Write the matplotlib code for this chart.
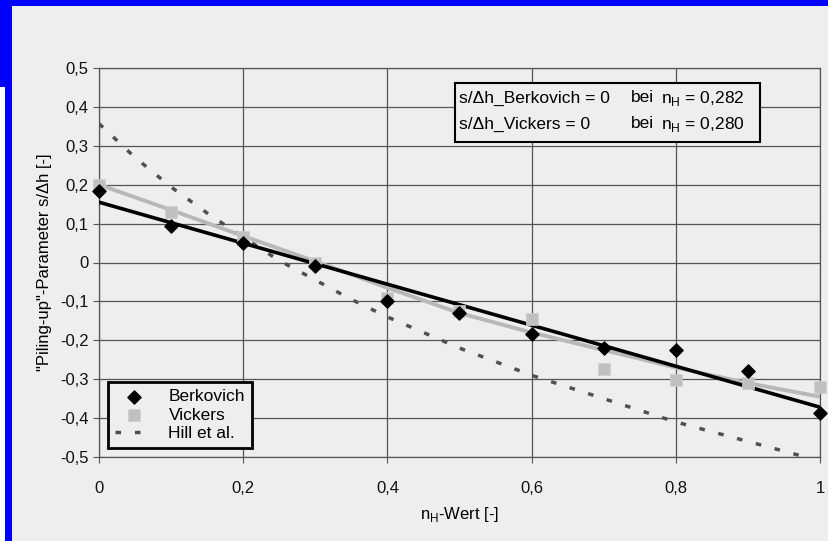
import numpy as np
import matplotlib
matplotlib.use("Agg")
import matplotlib.pyplot as plt
from matplotlib.patches import Rectangle

plt.rcParams['font.family'] = ['Liberation Sans', 'DejaVu Sans']

# Messpunkte
n_h = [0.0, 0.1, 0.2, 0.3, 0.4, 0.5, 0.6, 0.7, 0.8, 0.9, 1.0]
berkovich = [0.185, 0.093, 0.05, -0.01, -0.1, -0.13, -0.183, -0.219, -0.224, -0.28, -0.388]
vickers = [0.2, 0.13, 0.065, 0.0, -0.09, -0.125, -0.145, -0.275, -0.303, -0.31, -0.32]

# Trendlinien
berk_fit_x = [0.0, 1.0]
berk_fit_y = [0.155, -0.372]
vick_fit_x = [0.0, 0.1, 0.2, 0.3, 0.4, 0.5, 0.6, 0.7, 0.8, 0.9, 1.0]
vick_fit_y = [0.2, 0.135, 0.068, 0.003, -0.065, -0.13, -0.18, -0.225, -0.27, -0.31, -0.345]

# Hill et al.
hill_x = [0.0, 0.05, 0.1, 0.15, 0.2, 0.25, 0.3, 0.35, 0.4, 0.45, 0.5,
          0.55, 0.6, 0.65, 0.7, 0.75, 0.8, 0.85, 0.9, 0.95, 0.98]
hill_y = [0.357, 0.27, 0.194, 0.127, 0.065, 0.005, -0.045, -0.095, -0.14, -0.18, -0.22,
          -0.255, -0.29, -0.32, -0.35, -0.38, -0.41, -0.435, -0.46, -0.485, -0.5]

x_ticks = [0, 0.2, 0.4, 0.6, 0.8, 1.0]
x_labels = ['0', '0,2', '0,4', '0,6', '0,8', '1']
y_ticks = [0.5, 0.4, 0.3, 0.2, 0.1, 0, -0.1, -0.2, -0.3, -0.4, -0.5]
y_labels = ['0,5', '0,4', '0,3', '0,2', '0,1', '0', '-0,1', '-0,2', '-0,3', '-0,4', '-0,5']

bg = '#eeeeee'
W, H = 829, 541
fig = plt.figure(figsize=(W / 100, H / 100), dpi=100, facecolor=bg)

# blauer Rahmen
fig.patches.append(Rectangle((0, 1 - 6 / H), 1, 6 / H, transform=fig.transFigure,
                             facecolor='#0000ff', edgecolor='none', zorder=0))
fig.patches.append(Rectangle((0, 0), 12 / W, 1, transform=fig.transFigure,
                             facecolor='#0000ff', edgecolor='none', zorder=0))
fig.patches.append(Rectangle((0, 0), 5 / W, 1 - 87 / H, transform=fig.transFigure,
                             facecolor='white', edgecolor='none', zorder=1))

ax = fig.add_axes([99 / W, 1 - 457 / H, (820 - 99) / W, (457 - 68) / H])
ax.set_facecolor(bg)

ax.plot(hill_x, hill_y, color='#505050', lw=2.5, dashes=(1.6, 4.0),
        label='Hill et al.', zorder=3)
ax.plot(vick_fit_x, vick_fit_y, color='#b8b8b8', lw=2.8, zorder=3)
ax.plot(berk_fit_x, berk_fit_y, color='black', lw=2.6, zorder=4)
ax.scatter(n_h, vickers, marker='s', s=80, color='#c0c0c0', edgecolors='#d0d0d0',
           linewidths=0.5, label='Vickers', zorder=5, clip_on=False)
ax.scatter(n_h, berkovich, marker='D', s=45, color='black', label='Berkovich',
           zorder=6, clip_on=False)

ax.set_xlim(0, 1)
ax.set_ylim(-0.5, 0.5)
ax.set_xticks(x_ticks)
ax.set_xticklabels(x_labels)
ax.set_yticks(y_ticks)
ax.set_yticklabels(y_labels)
ax.tick_params(direction='out', length=4, width=0.8, color='#555555',
               labelsize=12, labelcolor='#111111')
ax.tick_params(axis='x', pad=13)
ax.grid(True, color='#555555', lw=0.9)
ax.set_axisbelow(True)
for s in ax.spines.values():
    s.set_color('#555555')
    s.set_linewidth(0.9)

ax.set_xlabel('n$_\\mathregular{H}$-Wert [-]', fontsize=12, labelpad=7)
ax.set_ylabel('"Piling-up"-Parameter s/Δh [-]', fontsize=12, labelpad=6)

h, l = ax.get_legend_handles_labels()
order = [2, 1, 0]
leg = ax.legend([h[i] for i in order], [l[i] for i in order], loc='lower left',
                bbox_to_anchor=(0.0, 0.0), fontsize=12.5, frameon=True,
                fancybox=False, handlelength=2.2, borderpad=0.4, labelspacing=0.2,
                handletextpad=0.9, facecolor=bg, framealpha=1)
leg.get_frame().set_edgecolor('black')
leg.get_frame().set_linewidth(2)

# Textbox Nullstellen
box = Rectangle(((455 - 99) / 721, (457 - 142) / 389), (760 - 455) / 721, (142 - 83) / 389,
                transform=ax.transAxes, facecolor=bg, edgecolor='black', lw=1.5, zorder=7)
ax.add_patch(box)
rows = [('s/Δh_Berkovich = 0', 'n$_\\mathregular{H}$ = 0,282', 98),
        ('s/Δh_Vickers = 0', 'n$_\\mathregular{H}$ = 0,280', 124)]
for a, b, yp in rows:
    yy = (457 - yp) / 389
    ax.text((459 - 99) / 721, yy, a, transform=ax.transAxes, va='center', fontsize=12.5, zorder=8)
    ax.text((631 - 99) / 721, yy, 'bei', transform=ax.transAxes, va='center', fontsize=12.5, zorder=8)
    ax.text((661 - 99) / 721, yy, b, transform=ax.transAxes, va='center', fontsize=12.5, zorder=8)

fig.savefig('out.png', dpi=100, facecolor=bg)
